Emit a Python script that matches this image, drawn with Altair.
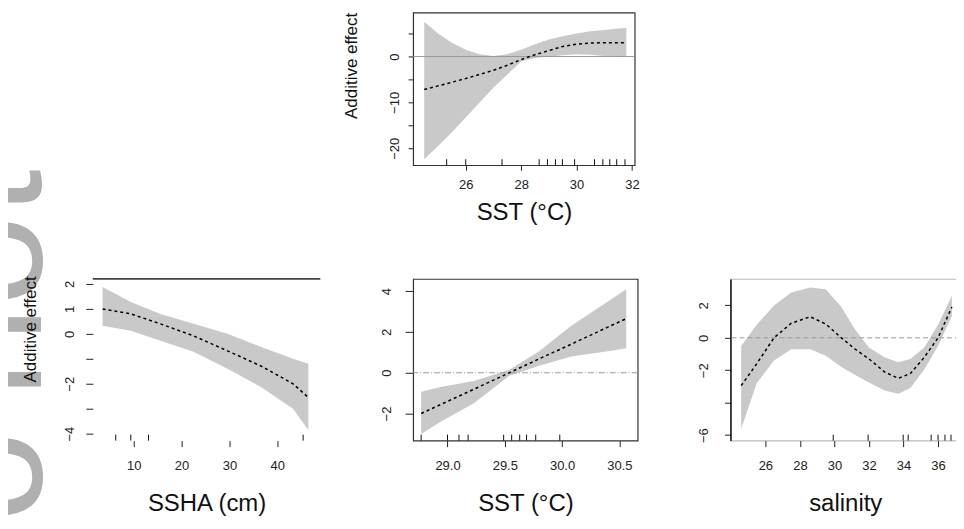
import altair as alt
import pandas as pd

FONT = "Liberation Sans"

# ---- top panel: SST (wide range) ----
top_x = [24.5, 25.0, 25.5, 26.0, 26.5, 27.0, 27.5, 28.0, 28.5, 29.0, 29.5, 30.0, 30.5, 31.0, 31.5, 31.8]
top_fit = [-7.2, -6.4, -5.6, -4.8, -3.9, -3.0, -1.9, -0.65, 0.4, 1.3, 2.2, 2.7, 2.95, 3.0, 3.0, 3.0]
top_upper = [7.6, 5.0, 3.0, 1.5, 0.5, 0.1, 0.5, 1.5, 2.7, 3.7, 4.4, 5.0, 5.5, 5.8, 6.1, 6.2]
top_lower = [-22.4, -19.5, -16.5, -13.3, -10.0, -6.8, -3.9, -1.1, -0.3, 0.0, 0.3, 0.5, 0.4, 0.1, 0.0, 0.0]
top_rug = [25.31, 26.0, 27.31, 28.65, 28.95, 29.24, 29.49, 29.93, 30.65, 30.95, 31.2, 31.45, 31.75]
top_xticks = [26, 28, 30, 32]
top_yticks = [5, 0, -5, -10, -15, -20]
top_ylabels = [0, -10, -20]

# ---- bottom left: SSHA ----
ssha_x = [3.5, 9.4, 15.6, 22.5, 29.6, 36.5, 43.3, 46.5]
ssha_fit = [1.0, 0.8, 0.4, -0.08, -0.68, -1.28, -2.0, -2.55]
ssha_upper = [1.88, 1.28, 0.8, 0.4, 0.0, -0.52, -1.0, -1.2]
ssha_lower = [0.32, 0.12, -0.28, -0.72, -1.4, -2.12, -3.0, -3.85]
ssha_rug = [6.25, 9.4, 13.1, 45.4]
ssha_xticks = [10, 20, 30, 40]
ssha_yticks = [2, 1, 0, -1, -2, -3, -4]
ssha_ylabels = [2, 1, 0, -2, -4]

# ---- bottom middle: SST (narrow range) ----
sst_x = [28.77, 28.94, 29.23, 29.54, 29.8, 30.08, 30.4, 30.56]
sst_fit = [-2.0, -1.56, -0.81, 0.0, 0.68, 1.40, 2.24, 2.65]
sst_upper = [-0.93, -0.7, -0.4, 0.15, 1.05, 2.3, 3.5, 4.1]
sst_lower = [-3.0, -2.4, -1.5, -0.15, 0.34, 0.8, 1.05, 1.2]
sst_rug = [28.77, 29.0, 29.1, 29.18, 29.49, 29.56, 29.63, 29.69, 29.77, 29.98]
sst_xticks = [29.0, 29.5, 30.0, 30.5]
sst_yticks = [4, 2, 0, -2]
sst_ylabels = [4, 2, 0, -2]

# ---- bottom right: salinity ----
sal_x = [24.6, 25.5, 26.5, 27.5, 28.6, 29.5, 30.4, 31.2, 32.0, 32.9, 33.7, 34.4, 35.2, 36.0, 36.8]
sal_fit = [-2.95, -1.6, 0.0, 0.9, 1.3, 0.85, 0.0, -0.7, -1.3, -2.1, -2.5, -2.2, -1.2, 0.0, 1.9]
sal_upper = [-0.5, 0.8, 2.0, 2.8, 3.1, 3.0, 1.9, 0.5, -0.6, -1.2, -1.5, -1.3, -0.6, 0.8, 2.6]
sal_lower = [-5.6, -2.8, -1.4, -0.7, -0.7, -1.1, -1.8, -2.3, -2.75, -3.25, -3.45, -3.1, -1.95, -0.5, 1.35]
sal_rug = [29.93, 31.95, 33.98, 34.27, 35.6, 36.0, 36.4, 36.75]
sal_xticks = [26, 28, 30, 32, 34, 36]
sal_yticks = [2, 0, -2, -4, -6]
sal_ylabels = [2, 0, -2, -6]

Y_TITLE = "Additive effect"
WATERMARK = "do\u2009not"


def panel(xs, fit, up, lo, rug, xdom, ydom, xticks, yticks, yshow, xtitle, w, h,
          xfmt, ytitle=None, ytitle_y=50, ylab_pad=8, ytick=6, xlab_pad=12, xtick=6,
          xtitle_y=64, zero=None, stroke="#333", left_domain=False, top_rule=False):
    df = pd.DataFrame({"x": xs, "fit": fit, "upper": up, "lower": lo})
    xscale = alt.Scale(domain=xdom, nice=False, zero=False)
    yscale = alt.Scale(domain=ydom, nice=False, zero=False)
    xaxis = alt.Axis(values=xticks, format=xfmt, title=xtitle, domain=False, grid=False,
                     tickSize=xtick, tickColor="#222", labelPadding=xlab_pad,
                     labelFontSize=13, labelColor="#222", labelFlush=False,
                     labelOverlap=False, titleFontSize=24, titleFontWeight="normal",
                     titleColor="#111", titleY=xtitle_y, titleBaseline="middle")
    shown = ",".join(str(v) for v in yshow)
    ykw = dict(values=yticks, domain=left_domain, domainColor="#111", domainWidth=1.5,
               grid=False, tickSize=ytick, tickColor="#222", labelPadding=ylab_pad,
               labelFontSize=13, labelColor="#222", labelAngle=270, labelAlign="center",
               labelBaseline="bottom", labelOverlap=False, labelFlush=False,
               labelExpr="indexof([" + shown + "], datum.value) >= 0 ? datum.label : ''")
    if ytitle:
        ykw.update(title=ytitle, titleFontSize=17, titleFontWeight="normal",
                   titleColor="#111", titleAngle=270, titleX=-62, titleY=ytitle_y,
                   titleAlign="center", titleBaseline="middle")
    else:
        ykw.update(title="")
    yaxis = alt.Axis(**ykw)

    X = alt.X("x:Q", scale=xscale, axis=xaxis)
    layers = [
        alt.Chart(df).mark_area(color="#c9c9c9", opacity=1).encode(
            x=X, y=alt.Y("upper:Q", scale=yscale, axis=yaxis), y2="lower:Q"
        )
    ]
    if zero is not None:
        rk = dict(color="#9a9a9a", strokeWidth=1)
        if zero:
            rk["strokeDash"] = zero
        layers.append(
            alt.Chart(pd.DataFrame({"z": [0]})).mark_rule(**rk).encode(
                y=alt.Y("z:Q", scale=yscale, axis=yaxis)
            )
        )
    layers.append(
        alt.Chart(df).mark_line(color="black", strokeDash=[3, 3], strokeWidth=1.5).encode(
            x=X, y=alt.Y("fit:Q", scale=yscale, axis=yaxis)
        )
    )
    layers.append(
        alt.Chart(pd.DataFrame({"x": rug})).mark_rule(color="#111", strokeWidth=1).encode(
            x=X, y=alt.value(h), y2=alt.value(h - 6)
        )
    )
    if top_rule:
        layers.append(
            alt.Chart(pd.DataFrame({"v": [0]})).mark_rule(color="#444", strokeWidth=1.8).encode(
                x=alt.value(0), x2=alt.value(w), y=alt.value(0)
            )
        )
    return alt.layer(*layers).properties(
        width=w, height=h, view=alt.ViewBackground(stroke=stroke, strokeWidth=1.2)
    )


def blank(w, h, watermark=False):
    if watermark:
        mark = alt.Chart(pd.DataFrame({"t": [WATERMARK]})).mark_text(
            angle=270, align="right", baseline="alphabetic", fontSize=165,
            font=FONT, color="#b0b0b0"
        ).encode(text="t:N", x=alt.value(-52), y=alt.value(157))
    else:
        mark = alt.Chart(pd.DataFrame({"v": [0]})).mark_rule(opacity=0).encode(
            x=alt.value(2), x2=alt.value(8), y=alt.value(8)
        )
    return mark.properties(width=w, height=h, view=alt.ViewBackground(stroke="transparent"))


top = panel(top_x, top_fit, top_upper, top_lower, top_rug, [24.1, 32.1], [-23.7, 9.6],
            top_xticks, top_yticks, top_ylabels, "SST (°C)", 222, 153, "d",
            ytitle=Y_TITLE, ytitle_y=53, ylab_pad=7, ytick=5, xlab_pad=8, xtick=5,
            xtitle_y=47, zero=[], stroke="#333")

p1 = panel(ssha_x, ssha_fit, ssha_upper, ssha_lower, ssha_rug, [1.46, 49.0], [-4.28, 2.2],
           ssha_xticks, ssha_yticks, ssha_ylabels, "SSHA (cm)", 228, 162, "d",
           ytitle=Y_TITLE, ytitle_y=50, ylab_pad=9, ytick=7, xlab_pad=13, xtick=6,
           xtitle_y=63, zero=None, stroke="transparent", top_rule=True)

p2 = panel(sst_x, sst_fit, sst_upper, sst_lower, sst_rug, [28.7, 30.66], [-3.33, 4.6],
           sst_xticks, sst_yticks, sst_ylabels, "SST (°C)", 225, 162, ".1f",
           ylab_pad=12, ytick=8, xlab_pad=13, xtick=6, xtitle_y=63,
           zero=[6, 2, 1, 2], stroke="#333")

p3 = panel(sal_x, sal_fit, sal_upper, sal_lower, sal_rug, [23.98, 37.27], [-6.34, 3.63],
           sal_xticks, sal_yticks, sal_ylabels, "salinity", 230, 162, "d",
           ylab_pad=14, ytick=6, xlab_pad=13, xtick=6, xtitle_y=63,
           zero=[5, 3], stroke="#bbbbbb", left_domain=True)

chart = alt.concat(
    blank(228, 153, watermark=True), top, blank(230, 153), p1, p2, p3,
    columns=3,
    spacing={"row": 114, "column": 93},
    bounds="flush",
).properties(
    padding={"left": -100, "top": 3, "right": -6, "bottom": -99},
    background="white",
).configure_axis(
    labelFont=FONT, titleFont=FONT
).configure_text(font=FONT)

chart.save("out.html", embed_options={"renderer": "svg", "actions": False})
